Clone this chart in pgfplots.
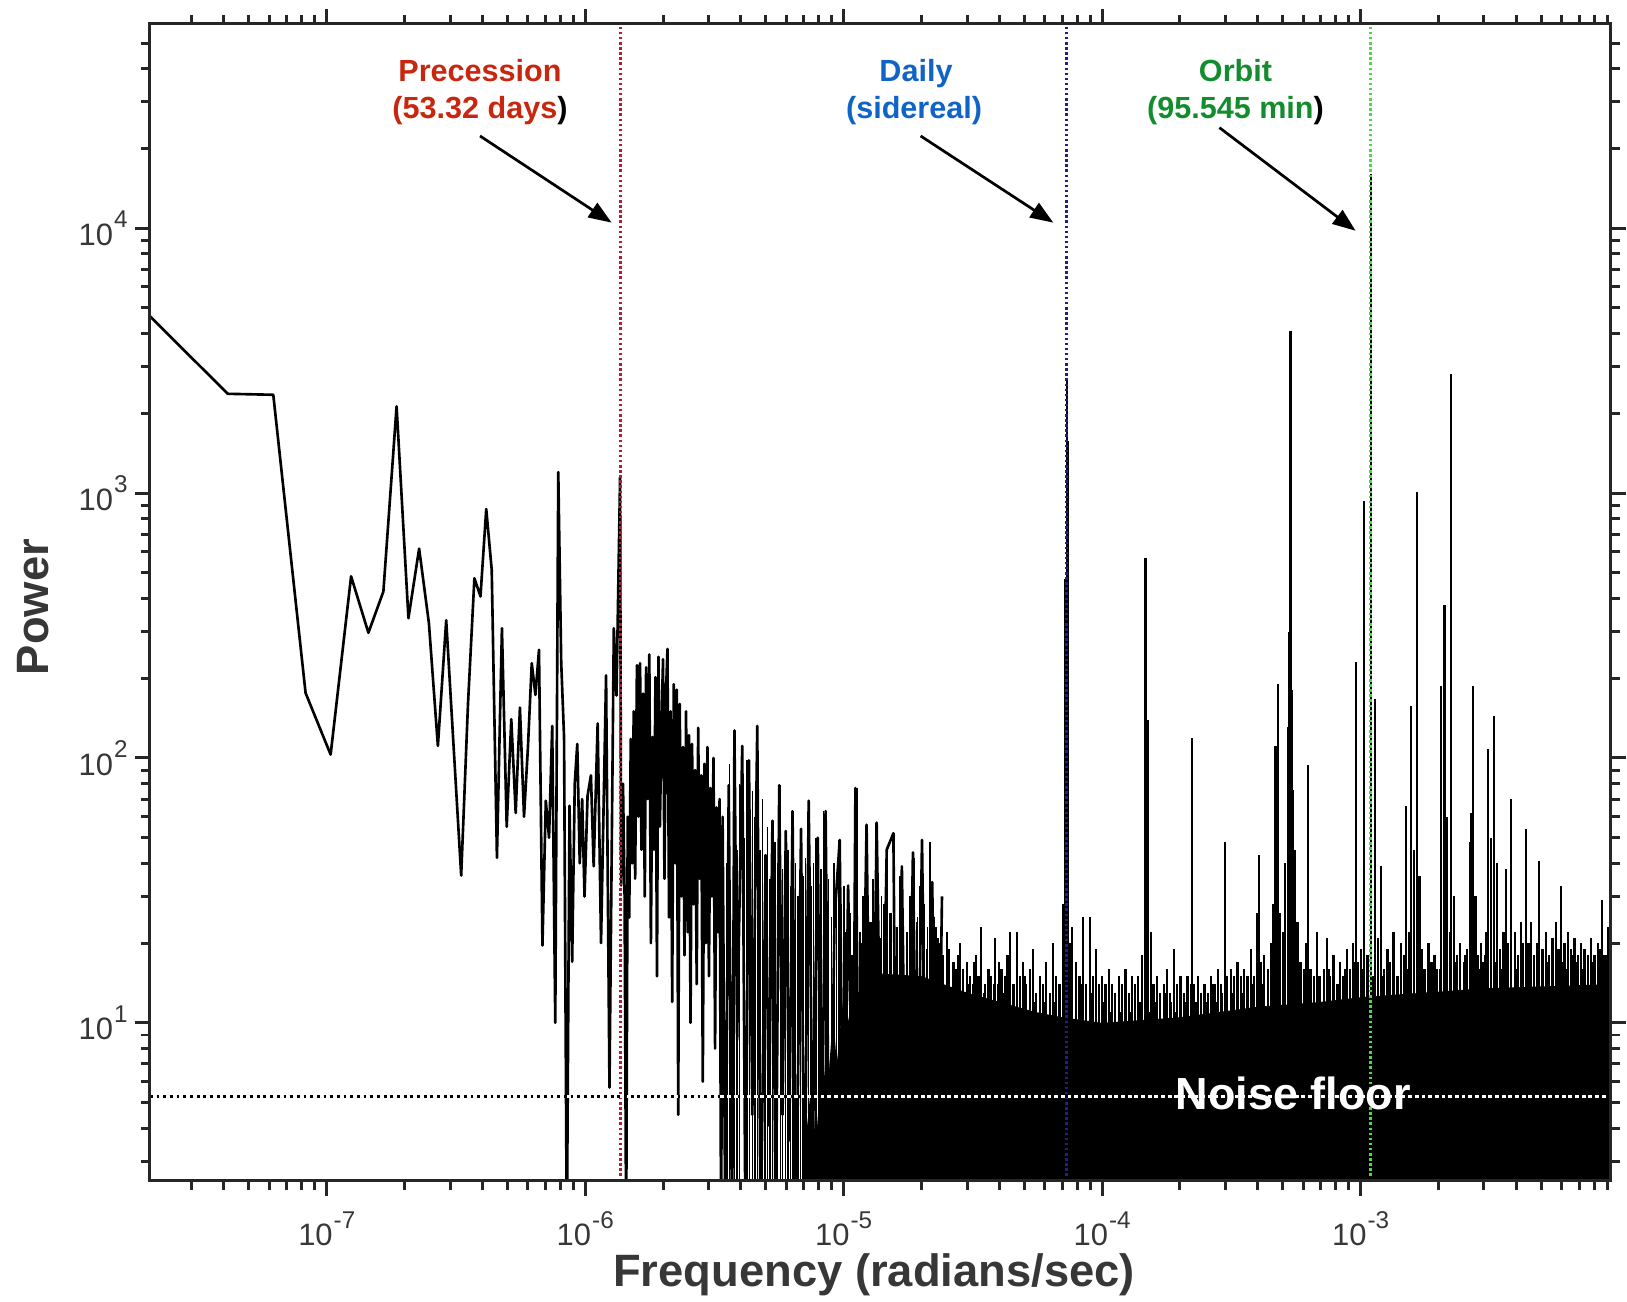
\documentclass[border=0pt]{standalone}
\usepackage{fontspec}
\setmainfont{Liberation Sans}
\usepackage{pgfplots}
\pgfplotsset{compat=1.18}
\usepackage{pgfplotstable}
\usetikzlibrary{arrows.meta}

\definecolor{precred}{RGB}{200,38,14}
\definecolor{precline}{RGB}{178,30,45}
\definecolor{dailyblue}{RGB}{16,100,200}
\definecolor{dailyline}{RGB}{32,32,128}
\definecolor{orbitgreen}{RGB}{18,140,45}
\definecolor{orbitline}{RGB}{70,220,70}
\definecolor{axisgray}{RGB}{38,38,38}
\definecolor{labelgray}{RGB}{55,55,55}

% power-of-ten tick label with a large raised exponent
\newcommand{\tpow}[1]{10\kern0.3pt\raisebox{1.75mm}{\fontsize{6.9}{8}\selectfont#1}}

% Low-frequency part of the periodogram (resolved bins) and the
% sparse region up to a few 1e-5 rad/s
\pgfplotstableread{
f P
2.07e-8 4650
4.14e-8 2370
6.21e-8 2350
8.28e-8 176
1.035e-7 103
1.242e-7 485
1.449e-7 297
1.656e-7 425
1.863e-7 2125
2.07e-7 337
2.277e-7 617
2.484e-7 323
2.691e-7 111
2.898e-7 331
3.105e-7 105
3.312e-7 36
3.519e-7 160
3.726e-7 477
3.933e-7 407
4.14e-7 870
4.347e-7 513
4.554e-7 42
4.761e-7 309
4.968e-7 55
5.175e-7 140
5.382e-7 62
5.589e-7 155
5.796e-7 60
6.003e-7 110
6.21e-7 228
6.417e-7 173
6.624e-7 256
6.831e-7 19.6
7.038e-7 69
7.245e-7 50
7.452e-7 132
7.659e-7 10
7.866e-7 1200
8.073e-7 230
8.28e-7 120
8.487e-7 1.5
8.694e-7 66
8.901e-7 17
9.108e-7 80
9.315e-7 113
9.522e-7 40
9.729e-7 70
9.936e-7 30
1.021e-6 72
1.052e-6 86
1.078e-6 39
1.117e-6 135
1.151e-6 20
1.204e-6 205
1.241e-6 5.7
1.290e-6 309
1.321e-6 172
1.364e-6 1150
1.377e-6 33
1.400e-6 80
1.420e-6 30
1.440e-6 1.5
1.460e-6 60
1.480e-6 25
1.500e-6 118
1.520e-6 40
1.540e-6 150
1.560e-6 35
1.585e-6 224
1.605e-6 60
1.630e-6 228
1.650e-6 45
1.675e-6 175
1.700e-6 30
1.720e-6 220
1.745e-6 70
1.770e-6 246
1.795e-6 20
1.820e-6 120
1.845e-6 45
1.870e-6 202
1.895e-6 15
1.920e-6 241
1.945e-6 55
1.975e-6 140
2.000e-6 236
2.025e-6 35
2.055e-6 180
2.080e-6 258
2.110e-6 25
2.140e-6 150
2.170e-6 12
2.200e-6 190
2.230e-6 40
2.260e-6 181
2.290e-6 4.5
2.320e-6 160
2.355e-6 30
2.390e-6 110
2.420e-6 18
2.455e-6 150
2.490e-6 22
2.520e-6 122
2.555e-6 10
2.590e-6 113
2.625e-6 28
2.660e-6 90
2.700e-6 14
2.735e-6 130
2.770e-6 35
2.810e-6 86
2.850e-6 6
2.890e-6 95
2.930e-6 20
2.970e-6 110
3.010e-6 15
3.050e-6 77
3.090e-6 30
3.135e-6 100
3.180e-6 8
3.220e-6 65
3.265e-6 22
3.310e-6 70
3.355e-6 1.5
3.400e-6 60
3.485e-6 1.5
3.591e-6 79
3.700e-6 1.5
3.778e-6 127
3.87e-6 8.6
4.05e-6 111
4.17e-6 1.5
4.30e-6 98
4.43e-6 4.5
4.63e-6 132
4.77e-6 1.5
4.99e-6 43
5.14e-6 4.1
5.30e-6 58
5.46e-6 1.5
5.63e-6 79
5.80e-6 4.5
5.97e-6 53
6.16e-6 3.6
6.34e-6 63
6.54e-6 1.5
6.84e-6 54
7.05e-6 1.5
7.32e-6 69
7.59e-6 3.2
7.94e-6 50
8.18e-6 1.5
8.51e-6 63
8.82e-6 1.5
9.22e-6 25
9.65e-6 49
1.00e-5 1.5
1.04e-5 33
1.087e-5 3.2
1.11e-5 77
1.155e-5 1.5
1.226e-5 56
1.282e-5 1.5
1.341e-5 57
1.402e-5 3.6
1.467e-5 45
1.557e-5 52
1.605e-5 1.5
1.679e-5 39
1.756e-5 1.5
1.853e-5 44
1.921e-5 2.8
2.009e-5 49
2.10e-5 1.5
2.20e-5 34
2.30e-5 1.5
2.40e-5 30
}\lowfreq

% Lines of the transition region (a few 1e-6 to 1e-5 rad/s)
\pgfplotstableread{
f P
3.53e-6 40
3.61e-6 95
3.78e-6 127
3.86e-6 45
3.95e-6 80
4.13e-6 50
4.23e-6 98
4.33e-6 40
4.43e-6 75
4.53e-6 60
4.63e-6 132
4.74e-6 45
4.85e-6 70
4.96e-6 43
5.07e-6 55
5.19e-6 35
5.30e-6 58
5.43e-6 48
5.55e-6 40
5.68e-6 79
5.81e-6 38
5.94e-6 53
6.08e-6 45
6.22e-6 33
6.36e-6 63
6.51e-6 40
6.66e-6 30
6.81e-6 54
6.97e-6 36
7.13e-6 42
7.29e-6 69
7.46e-6 33
7.63e-6 40
7.81e-6 50
7.99e-6 30
8.17e-6 38
8.36e-6 63
8.55e-6 28
8.75e-6 35
8.95e-6 25
9.16e-6 40
9.37e-6 30
9.58e-6 49
9.80e-6 28
}\midhairs

% Individual spectral lines in the dense high-frequency region
\pgfplotstableread{
f P
1.00e-5 33
1.03e-5 20
1.06e-5 26
1.09e-5 18
1.12e-5 77
1.16e-5 22
1.19e-5 30
1.23e-5 56
1.27e-5 24
1.30e-5 35
1.34e-5 57
1.38e-5 21
1.43e-5 28
1.47e-5 45
1.51e-5 26
1.56e-5 52
1.61e-5 23
1.65e-5 36
1.70e-5 26
1.76e-5 21
1.81e-5 30
1.87e-5 42
1.92e-5 24
1.98e-5 33
2.04e-5 28
2.10e-5 19
2.15e-5 48
2.23e-5 25
2.27e-5 23
2.36e-5 20
2.43e-5 18
2.51e-5 22
2.55e-5 19
2.66e-5 17
2.71e-5 16
2.82e-5 20
2.90e-5 15
3.00e-5 17
3.08e-5 15
3.17e-5 14
3.24e-5 18
3.32e-5 15
3.41e-5 23
3.51e-5 14
3.62e-5 16
3.72e-5 15
3.85e-5 21
3.96e-5 14
4.08e-5 16
4.20e-5 15
4.30e-5 18
4.40e-5 22
4.52e-5 14
4.69e-5 22
4.80e-5 15
4.94e-5 17
5.09e-5 14
5.24e-5 16
5.40e-5 19
5.56e-5 13
5.73e-5 15
5.90e-5 14
6.08e-5 17
6.26e-5 13
6.47e-5 20
6.64e-5 15
6.84e-5 14
7.05e-5 28
7.20e-5 474
7.29e-5 2700
7.38e-5 1575
7.48e-5 20
7.65e-5 23
7.93e-5 17
8.17e-5 15
8.42e-5 25
8.66e-5 14
9.00e-5 25
9.19e-5 15
9.47e-5 19
9.75e-5 14
1.00e-4 15
1.03e-4 14
1.06e-4 16
1.09e-4 14
1.12e-4 13
1.16e-4 15
1.19e-4 14
1.23e-4 16
1.27e-4 13
1.30e-4 15
1.34e-4 14
1.38e-4 15
1.43e-4 18
1.47e-4 570
1.50e-4 139
1.54e-4 22
1.58e-4 14
1.63e-4 15
1.68e-4 13
1.73e-4 14
1.78e-4 16
1.83e-4 13
1.89e-4 19
1.95e-4 14
2.01e-4 15
2.07e-4 13
2.14e-4 15
2.23e-4 119
2.27e-4 14
2.34e-4 15
2.41e-4 13
2.49e-4 14
2.56e-4 13
2.64e-4 15
2.72e-4 14
2.80e-4 16
2.89e-4 14
2.98e-4 48
3.05e-4 15
3.14e-4 16
3.24e-4 15
3.34e-4 17
3.44e-4 15
3.54e-4 16
3.65e-4 15
3.76e-4 19
3.88e-4 15
3.96e-4 26
4.04e-4 43
4.12e-4 17
4.24e-4 18
4.37e-4 16
4.50e-4 20
4.60e-4 28
4.68e-4 111
4.79e-4 191
4.88e-4 26
5.00e-4 22
5.10e-4 40
5.22e-4 131
5.28e-4 300
5.35e-4 4100
5.42e-4 180
5.48e-4 76
5.56e-4 45
5.70e-4 24
5.85e-4 17
6.02e-4 16
6.13e-4 20
6.24e-4 94
6.40e-4 16
6.58e-4 15
6.78e-4 22
6.98e-4 15
7.19e-4 16
7.40e-4 21
7.62e-4 15
7.85e-4 18
8.09e-4 14
8.33e-4 17
8.58e-4 15
8.84e-4 19
9.10e-4 16
9.35e-4 20
9.57e-4 230
9.80e-4 17
1.00e-3 19
1.03e-3 930
1.06e-3 18
1.096e-3 16000
1.14e-3 167
1.17e-3 21
1.20e-3 39
1.23e-3 16
1.27e-3 19
1.30e-3 17
1.34e-3 22
1.38e-3 15
1.43e-3 20
1.47e-3 18
1.50e-3 66
1.54e-3 22
1.57e-3 157
1.61e-3 45
1.65e-3 1010
1.69e-3 36
1.73e-3 19
1.78e-3 16
1.83e-3 20
1.88e-3 17
1.93e-3 18
1.98e-3 16
2.05e-3 187
2.11e-3 377
2.16e-3 60
2.23e-3 2810
2.29e-3 30
2.36e-3 18
2.43e-3 20
2.51e-3 17
2.58e-3 19
2.64e-3 48
2.68e-3 62
2.72e-3 187
2.78e-3 30
2.85e-3 18
2.92e-3 20
2.99e-3 17
3.06e-3 22
3.11e-3 108
3.20e-3 50
3.28e-3 144
3.37e-3 40
3.47e-3 19
3.57e-3 22
3.64e-3 38
3.72e-3 20
3.83e-3 70
3.95e-3 22
4.06e-3 18
4.16e-3 24
4.26e-3 20
4.36e-3 54
4.46e-3 20
4.57e-3 24
4.68e-3 18
4.80e-3 20
4.91e-3 41
5.05e-3 19
5.20e-3 22
5.36e-3 18
5.52e-3 21
5.70e-3 24
5.85e-3 19
5.98e-3 33
6.15e-3 20
6.33e-3 22
6.52e-3 19
6.72e-3 21
6.92e-3 18
7.13e-3 20
7.35e-3 19
7.57e-3 17
7.80e-3 21
8.03e-3 18
8.27e-3 20
8.45e-3 19
8.60e-3 29
8.86e-3 18
9.10e-3 23
9.25e-3 20
}\hairs

% Short lines on top of the noise band
\pgfplotstableread{
f P
1.02e-5 22
1.07e-5 18
1.12e-5 25
1.17e-5 20
1.22e-5 28
1.28e-5 19
1.34e-5 24
1.40e-5 30
1.47e-5 21
1.53e-5 26
1.61e-5 19
1.68e-5 27
1.76e-5 22
1.84e-5 18
1.93e-5 25
2.02e-5 20
2.11e-5 23
2.21e-5 17
2.31e-5 21
2.42e-5 16
2.53e-5 19
2.65e-5 15
2.77e-5 18
2.90e-5 16
3.04e-5 14
3.18e-5 17
3.33e-5 15
3.48e-5 13
3.64e-5 16
3.81e-5 14
3.99e-5 17
4.18e-5 13
4.37e-5 15
4.58e-5 14
4.79e-5 12
5.01e-5 15
5.25e-5 13
5.49e-5 12
5.75e-5 14
6.02e-5 12
6.30e-5 13
6.59e-5 12
6.90e-5 14
7.22e-5 12
7.56e-5 13
7.91e-5 12
8.28e-5 14
8.67e-5 12
9.07e-5 13
9.50e-5 12
1.02e-4 12
1.07e-4 11
1.12e-4 13
1.17e-4 11
1.22e-4 12
1.28e-4 11
1.34e-4 13
1.40e-4 12
1.47e-4 14
1.53e-4 11
1.61e-4 12
1.68e-4 11
1.76e-4 13
1.84e-4 12
1.93e-4 11
2.02e-4 13
2.11e-4 12
2.21e-4 14
2.31e-4 12
2.42e-4 13
2.53e-4 12
2.65e-4 14
2.77e-4 12
2.90e-4 13
3.04e-4 15
3.18e-4 13
3.33e-4 14
3.48e-4 13
3.64e-4 15
3.81e-4 14
3.99e-4 16
4.18e-4 14
4.37e-4 15
4.58e-4 17
4.79e-4 16
5.01e-4 18
5.25e-4 22
5.49e-4 20
5.75e-4 16
6.02e-4 14
6.30e-4 16
6.59e-4 14
6.90e-4 15
7.22e-4 14
7.56e-4 16
7.91e-4 15
8.28e-4 14
8.67e-4 16
9.07e-4 15
9.50e-4 17
1.02e-3 16
1.07e-3 18
1.12e-3 15
1.17e-3 17
1.22e-3 15
1.28e-3 16
1.34e-3 18
1.40e-3 15
1.47e-3 17
1.53e-3 16
1.61e-3 18
1.68e-3 20
1.76e-3 16
1.84e-3 15
1.93e-3 17
2.02e-3 16
2.11e-3 19
2.21e-3 22
2.31e-3 17
2.42e-3 16
2.53e-3 18
2.65e-3 17
2.77e-3 19
2.90e-3 16
3.04e-3 18
3.18e-3 20
3.33e-3 17
3.48e-3 16
3.64e-3 18
3.81e-3 17
3.99e-3 16
4.18e-3 18
4.37e-3 17
4.58e-3 19
4.79e-3 16
5.01e-3 18
5.25e-3 17
5.49e-3 16
5.75e-3 19
6.02e-3 17
6.30e-3 16
6.59e-3 18
6.90e-3 17
7.22e-3 16
7.56e-3 18
7.91e-3 17
8.28e-3 16
8.67e-3 18
9.07e-3 17
}\fuzz

% Upper edge of the solid noise band
\pgfplotstableread{
f P
7e-6 1
7e-6 3
7.5e-6 6
7.8e-6 3.5
8.3e-6 8
8.6e-6 5
9.1e-6 11
9.4e-6 7
1e-5 13
1.05e-5 10
1.1e-5 15
1.15e-5 12
1.2e-5 15.5
2e-5 15
3e-5 13
4e-5 12
5.5e-5 11
7e-5 10.5
1e-4 10
2e-4 10.5
4e-4 11.5
7e-4 12
1e-3 12.5
3e-3 13.5
9.3e-3 14
9.3e-3 1
}\band

\begin{document}
\begin{tikzpicture}
\useasboundingbox (-15.0mm,-12.1mm) rectangle (147.7mm,118.1mm);
\begin{axis}[
  scale only axis, width=146.1mm, height=115.7mm,
  at={(0,0)}, anchor=south west,
  xmode=log, ymode=log,
  xmin=2.07e-8, xmax=9.3e-3, ymin=2.53, ymax=5.9e4,
  axis on top,
  axis line style={axisgray, line width=0.85pt},
  tick style={axisgray, line width=0.85pt},
  tick align=outside,
  major tick length=1.5mm, minor tick length=0.9mm,
  xtick={1e-7,1e-6,1e-5,1e-4,1e-3},
  xticklabels={\tpow{-7},\tpow{-6},\tpow{-5},\tpow{-4},\tpow{-3}},
  minor xtick={3e-8,4e-8,5e-8,6e-8,7e-8,8e-8,9e-8,
    2e-7,3e-7,4e-7,5e-7,6e-7,7e-7,8e-7,9e-7,
    2e-6,3e-6,4e-6,5e-6,6e-6,7e-6,8e-6,9e-6,
    2e-5,3e-5,4e-5,5e-5,6e-5,7e-5,8e-5,9e-5,
    2e-4,3e-4,4e-4,5e-4,6e-4,7e-4,8e-4,9e-4,
    2e-3,3e-3,4e-3,5e-3,6e-3,7e-3,8e-3,9e-3},
  ytick={10,100,1000,10000},
  yticklabels={\tpow{1},\tpow{2},\tpow{3},\tpow{4}},
  minor ytick={3,4,5,6,7,8,9,20,30,40,50,60,70,80,90,
    200,300,400,500,600,700,800,900,
    2000,3000,4000,5000,6000,7000,8000,9000,
    20000,30000,40000,50000},
  tick label style={font=\fontsize{8.8}{10}\selectfont, text=labelgray},
  xticklabel style={yshift=-0.3mm},
  yticklabel style={xshift=0.5mm},
  xlabel={Frequency (radians/sec)},
  ylabel={Power},
  label style={font=\fontsize{12.9}{15}\selectfont\bfseries, text=labelgray},
  xlabel style={at={(axis description cs:0.4956,-0.0914)}, anchor=base},
  ylabel style={at={(axis description cs:-0.0803,0.4961)}, anchor=center},
]
% solid part of the noise band
\addplot[fill=black, draw=none] table[x=f, y=P] {\band};
% individual lines of the spectrum
\addplot[ycomb, black, line width=0.4pt] table[x=f, y=P] {\midhairs};
\addplot[ycomb, black, line width=0.55pt] table[x=f, y=P] {\fuzz};
\addplot[ycomb, black, line width=0.62pt] table[x=f, y=P] {\hairs};
% low-frequency spectrum
\addplot[black, line width=0.75pt, line join=round] table[x=f, y=P] {\lowfreq};

% reference frequencies
\addplot[precline, line width=0.85pt, dash pattern=on 0.7pt off 0.75pt]
  coordinates {(1.364e-6,2.53) (1.364e-6,5.9e4)};
\addplot[dailyline, line width=0.85pt, dash pattern=on 0.7pt off 0.75pt]
  coordinates {(7.292e-5,2.53) (7.292e-5,5.9e4)};
\addplot[orbitline, line width=0.85pt, dash pattern=on 0.7pt off 0.75pt]
  coordinates {(1.096e-3,2.53) (1.096e-3,5.9e4)};

% noise floor: white line under a black dotted one
\addplot[white, line width=0.75pt] coordinates {(2.07e-8,5.27) (9.3e-3,5.27)};
\addplot[black, line width=0.75pt, dash pattern=on 0.8pt off 1.1pt]
  coordinates {(2.07e-8,5.27) (9.3e-3,5.27)};
\node[anchor=base, text=white, font=\fontsize{12.8}{15}\selectfont\bfseries]
  at (rel axis cs:0.7826,0.0614) {Noise floor};

% annotations
\begin{scope}[every node/.style={anchor=base, font=\fontsize{8.7}{10.4}\selectfont\bfseries}]
\node[text=precred] at (rel axis cs:0.2259,0.9501) {Precession};
\node[text=precred] at (rel axis cs:0.2259,0.9185) {(53.32 days\textcolor{black}{)}};
\node[text=dailyblue] at (rel axis cs:0.5243,0.9501) {Daily};
\node[text=dailyblue] at (rel axis cs:0.5230,0.9185) {(sidereal)};
\node[text=orbitgreen] at (rel axis cs:0.7430,0.9501) {Orbit};
\node[text=orbitgreen] at (rel axis cs:0.7430,0.9185) {(95.545 min\textcolor{black}{)}};
\end{scope}
\begin{scope}[line width=0.77pt, -{Triangle[length=2.3mm,width=1.7mm]}]
\draw (rel axis cs:0.2259,0.9032) -- (rel axis cs:0.3160,0.8283);
\draw (rel axis cs:0.5275,0.9032) -- (rel axis cs:0.6183,0.8283);
\draw (rel axis cs:0.7320,0.9104) -- (rel axis cs:0.8252,0.8213);
\end{scope}
\end{axis}
\end{tikzpicture}
\end{document}
